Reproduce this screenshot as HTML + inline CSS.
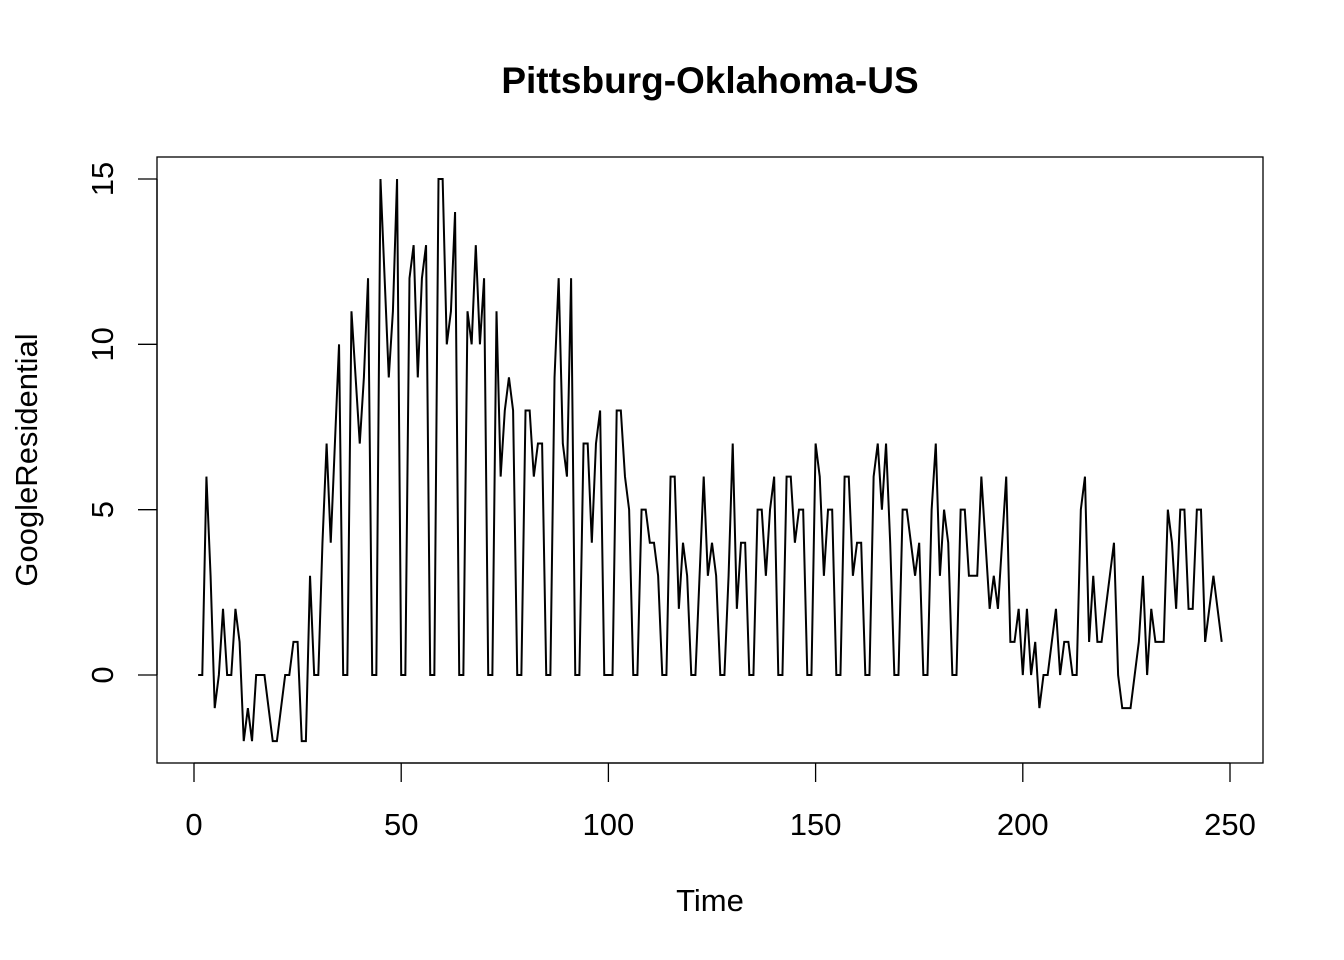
<!DOCTYPE html>
<html><head><meta charset="utf-8"><style>body{margin:0;background:#fff}svg{display:block;font-family:"Liberation Sans",Arial,sans-serif}</style></head>
<body>
<svg id="chart" width="1344" height="960" viewBox="0 0 1344 960">
<text x="710" y="93" text-anchor="middle" font-size="37" font-weight="bold">Pittsburg-Oklahoma-US</text>
<rect x="157" y="157" width="1106" height="606" fill="none" stroke="#000" stroke-width="1.3"/>
<g id="xaxis"></g>
<g id="yaxis"></g>
<text x="710" y="911" text-anchor="middle" font-size="31">Time</text>
<text transform="translate(37,460) rotate(-90)" text-anchor="middle" font-size="31">GoogleResidential</text>
<path id="line" fill="none" stroke="#000" stroke-width="2"/>
</svg>
<script>
const values = [0,0,6,3,-1,0,2,0,0,2,1,-2,-1,-2,0,0,0,-1,-2,-2,-1,0,0,1,1,-2,-2,3,0,0,4,7,4,7,10,0,0,
11,9,7,9,12,0,0,15,12,9,11,15,0,0,12,13,9,12,13,0,0,15,15,10,11,14,0,0,11,10,13,10,12,0,0,
11,6,8,9,8,0,0,8,8,6,7,7,0,0,9,12,7,6,12,0,0,7,7,4,7,8,0,0,0,8,8,6,5,0,0,5,5,4,4,3,0,0,
6,6,2,4,3,0,0,3,6,3,4,3,0,0,3,7,2,4,4,0,0,5,5,3,5,6,0,0,6,6,4,5,5,0,0,7,6,3,5,5,0,0,
6,6,3,4,4,0,0,6,7,5,7,4,0,0,5,5,4,3,4,0,0,5,7,3,5,4,0,0,5,5,3,3,3,6,4,2,3,2,4,6,1,1,2,0,2,0,1,-1,0,0,1,2,0,1,1,0,0,
5,6,1,3,1,1,2,3,4,0,-1,-1,-1,0,1,3,0,2,1,1,1,5,4,2,5,5,2,2,5,5,1,2,3,2,1];
const xTicks = [0,50,100,150,200,250];
const yTicks = [0,5,10,15];
const NS="http://www.w3.org/2000/svg";
const xs = t => 194 + t*(1230-194)/250;
const ys = v => 675 - v*(675-179)/15;
let d="";
values.forEach((v,i)=>{d+=(i?"L":"M")+xs(i+1).toFixed(2)+","+ys(v).toFixed(2);});
document.getElementById("line").setAttribute("d",d);
const xa=document.getElementById("xaxis"), ya=document.getElementById("yaxis");
function mk(tag,attrs,parent){const e=document.createElementNS(NS,tag);for(const k in attrs)e.setAttribute(k,attrs[k]);parent.appendChild(e);return e;}
mk("line",{x1:xs(0),x2:xs(250),y1:763,y2:763,stroke:"#000","stroke-width":1.3},xa);
xTicks.forEach(t=>{
 const l=mk("line",{x1:xs(t),x2:xs(t),y1:763,y2:782,stroke:"#000","stroke-width":1.3},xa);
 
 
 const tx=mk("text",{x:xs(t),y:835,"text-anchor":"middle","font-size":31},xa);
 
 
 tx.textContent=t;
});
mk("line",{x1:157,x2:157,y1:ys(0),y2:ys(15),stroke:"#000","stroke-width":1.3},ya);
yTicks.forEach(v=>{
 const l=mk("line",{x1:138,x2:157,y1:ys(v),y2:ys(v),stroke:"#000","stroke-width":1.3},ya);
 
 
 const tx=mk("text",{transform:`translate(113,${ys(v)}) rotate(-90)`,"text-anchor":"middle","font-size":31},ya);
 
 
 tx.textContent=v;
});
</script>
</body></html>
